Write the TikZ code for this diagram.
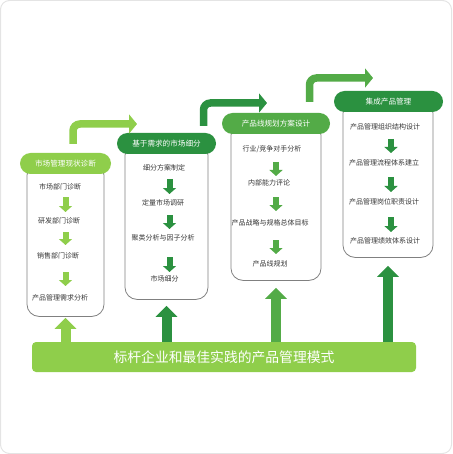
\documentclass[tikz,border=0pt]{standalone}
\usepackage{fontspec}
\setmainfont{Noto Sans CJK SC}
\usetikzlibrary{arrows.meta}
\definecolor{pmlight}{HTML}{8FCE4B}
\definecolor{pmdark}{HTML}{2B9140}
\definecolor{pmmid}{HTML}{53AB47}
\definecolor{pmink}{HTML}{363636}
\definecolor{pmedge}{HTML}{808080}
\definecolor{pmframe}{HTML}{E4E4E4}
\tikzset{
  pm head/.style={rounded corners=10.5pt, minimum height=21pt, inner sep=0pt,
    text=white, font=\fontsize{7.6}{9}\selectfont},
  pm box/.style={draw=pmedge, line width=0.8pt, rounded corners=12pt, fill=white,
    anchor=north, inner sep=0pt},
  pm item/.style={text=pmink, inner sep=1pt, font=\fontsize{7}{8}\selectfont},
  pm step/.style={-{Triangle[length=6pt,width=13pt]}, line width=6pt},
  pm bend/.style={-{Triangle[length=8pt,width=19pt]}, line width=7.5pt,
    rounded corners=7pt},
  pm up/.style={-{Triangle[length=11pt,width=21pt]}, line width=10pt},
  pm base/.style={fill=pmlight, rounded corners=4pt, minimum width=384pt,
    minimum height=30pt, inner sep=0pt, text=white,
    font=\fontsize{13.8}{16}\selectfont}
}
\begin{document}
\begin{tikzpicture}[x=1pt, y=-1pt]
  \useasboundingbox (0,0) rectangle (452,454);
  \draw[pmframe, line width=1pt, rounded corners=9pt] (0.5,0.5) rectangle (451.5,453.5);

  % column boxes
  \node[pm box, minimum width=77pt, minimum height=153pt] (b1) at (65.5,163) {};
  \node[pm box, minimum width=83pt, minimum height=156pt] (b2) at (166.5,143) {};
  \node[pm box, minimum width=90pt, minimum height=157pt] (b3) at (276,123) {};
  \node[pm box, minimum width=90pt, minimum height=156pt] (b4) at (388,101) {};

  % headers
  \node[pm head, fill=pmlight, minimum width=91pt] (h1) at (65.5,163.5) {市场管理现状诊断};
  \node[pm head, fill=pmdark, minimum width=99pt] (h2) at (166.5,143.5) {基于需求的市场细分};
  \node[pm head, fill=pmmid, minimum width=108pt] (h3) at (276,123.5) {产品线规划方案设计};
  \node[pm head, fill=pmdark, minimum width=109pt] (h4) at (388.5,101.5) {集成产品管理};

  % steps
  \node[pm item] (m11) at (60,187) {市场部门诊断};
  \node[pm item] (m12) at (59,221) {研发部门诊断};
  \node[pm item] (m13) at (58,256) {销售部门诊断};
  \node[pm item] (m14) at (60,298) {产品管理需求分析};
  \node[pm item] (m21) at (164,168) {细分方案制定};
  \node[pm item] (m22) at (163,203) {定量市场调研};
  \node[pm item] (m23) at (163,238) {聚类分析与因子分析};
  \node[pm item] (m24) at (164.5,279) {市场细分};
  \node[pm item] (m31) at (272,149) {行业/竞争对手分析};
  \node[pm item] (m32) at (269,183) {内部能力评论};
  \node[pm item] (m33) at (270,223) {产品战略与规格总体目标};
  \node[pm item] (m34) at (270,264) {产品线规划};
  \node[pm item] (m41) at (385,127) {产品管理组织结构设计};
  \node[pm item] (m42) at (384,163) {产品管理流程体系建立};
  \node[pm item] (m43) at (384,202) {产品管理岗位职责设计};
  \node[pm item] (m44) at (385,241) {产品管理绩效体系设计};

  \draw[pm step, pmlight, shorten <=10pt, shorten >=9pt] (m11.center -| b1.south) -- (m12.center -| b1.south);
  \draw[pm step, pmlight, shorten <=11pt, shorten >=11pt] (m12.center -| b1.south) -- (m13.center -| b1.south);
  \draw[pm step, pmlight, shorten <=16pt, shorten >=12pt] (m13.center -| b1.south) -- (m14.center -| b1.south);
  \draw[pm step, pmdark, shorten <=11pt, shorten >=9pt] ([xshift=3pt]m21.center -| b2.south) -- ([xshift=3pt]m22.center -| b2.south);
  \draw[pm step, pmdark, shorten <=12pt, shorten >=9pt] ([xshift=3pt]m22.center -| b2.south) -- ([xshift=3pt]m23.center -| b2.south);
  \draw[pm step, pmdark, shorten <=19pt, shorten >=7pt] ([xshift=3pt]m23.center -| b2.south) -- ([xshift=3pt]m24.center -| b2.south);
  \draw[pm step, pmmid, shorten <=13pt, shorten >=7pt] (m31.center -| b3.south) -- (m32.center -| b3.south);
  \draw[pm step, pmmid, shorten <=14pt, shorten >=12pt] (m32.center -| b3.south) -- (m33.center -| b3.south);
  \draw[pm step, pmmid, shorten <=17pt, shorten >=10pt] (m33.center -| b3.south) -- (m34.center -| b3.south);
  \draw[pm step, pmdark, shorten <=12pt, shorten >=10pt] ([xshift=3pt]m41.center -| b4.south) -- ([xshift=3pt]m42.center -| b4.south);
  \draw[pm step, pmdark, shorten <=14pt, shorten >=10pt] ([xshift=3pt]m42.center -| b4.south) -- ([xshift=3pt]m43.center -| b4.south);
  \draw[pm step, pmdark, shorten <=15pt, shorten >=9pt] ([xshift=3pt]m43.center -| b4.south) -- ([xshift=3pt]m44.center -| b4.south);

  % bends to the next stage
  \coordinate (s1) at (73,144);
  \coordinate (t1) at (137,124);
  \coordinate (s2) at (203.5,126);
  \coordinate (t2) at (267,103);
  \coordinate (s3) at (309.5,102);
  \coordinate (t3) at (373,78);
  \draw[pm bend, pmlight] (s1) |- (t1);
  \draw[pm bend, pmdark] (s2) |- (t2);
  \draw[pm bend, pmmid] (s3) |- (t3);

  % base
  \node[pm base] (base) at (224,357) {标杆企业和最佳实践的产品管理模式};
  \draw[pm up, pmlight, shorten >=1pt] (b1.south |- base.north) -- (b1.south);
  \draw[pm up, pmdark, shorten >=6pt] (b2.south |- base.north) -- (b2.south);
  \draw[pm up, pmmid, shorten >=7pt] (b3.south |- base.north) -- (b3.south);
  \draw[pm up, pmdark, shorten >=8pt] (b4.south |- base.north) -- (b4.south);
\end{tikzpicture}
\end{document}
